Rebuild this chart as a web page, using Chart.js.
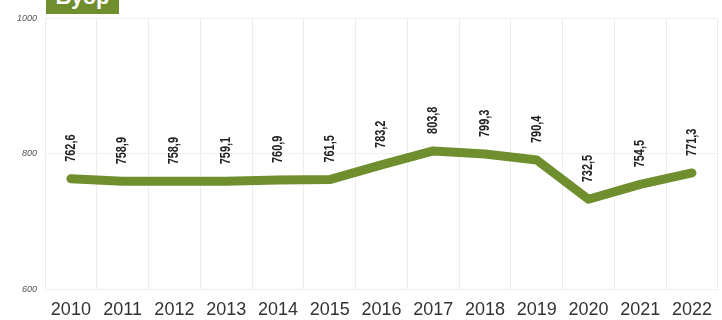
<!DOCTYPE html>
<html>
<head>
<meta charset="utf-8">
<script src="https://cdn.jsdelivr.net/npm/chart.js@4/dist/chart.umd.min.js"></script>
<style>
  html, body { margin: 0; padding: 0; background: #fff; }
  #wrap { position: relative; width: 722px; height: 320px; overflow: hidden; }
  #badge {
    position: absolute; left: 46px; top: -13px; width: 73px; height: 27px;
    background: #6f8e2e; color: #fff; font: bold 22px "Liberation Sans", Arial, sans-serif;
    line-height: 20px; text-align: center; overflow: hidden;
  }
</style>
</head>
<body>
<div id="wrap">
  <canvas id="chart" width="722" height="320"></canvas>
  <div id="badge">Буор</div>
</div>
<script>
// years and values
const years = ['2010', '2011', '2012', '2013', '2014', '2015', '2016', '2017', '2018', '2019', '2020', '2021', '2022'];
const values = [762.6, 758.9, 758.9, 759.1, 760.9, 761.5, 783.2, 803.8, 799.3, 790.4, 732.5, 754.5, 771.3];
const yTicks = [600, 800, 1000];

const green = '#6f8e2e';

// vertical value labels above each point (squeezed to look condensed)
const valueLabels = {
    id: 'valueLabels',
    afterDatasetsDraw(chart) {
        const ctx = chart.ctx;
        const meta = chart.getDatasetMeta(0);
        ctx.save();
        ctx.fillStyle = '#222';
        ctx.font = 'bold 14px "Liberation Sans", Arial, sans-serif';
        ctx.textAlign = 'left';
        ctx.textBaseline = 'middle';
        meta.data.forEach((pt, i) => {
            const txt = values[i].toFixed(1).replace('.', ',');
            ctx.save();
            ctx.translate(pt.x, pt.y - 17);
            ctx.rotate(-Math.PI / 2);
            ctx.scale(0.78, 1);
            ctx.fillText(txt, 0, 0);
            ctx.restore();
        });
        ctx.restore();
    }
};

const ctx = document.getElementById('chart').getContext('2d');
new Chart(ctx, {
    type: 'line',
    data: {
        labels: years,
        datasets: [{
            data: values,
            borderColor: green,
            borderWidth: 9,
            borderJoinStyle: 'round',
            borderCapStyle: 'round',
            pointRadius: 0,
            tension: 0,
            fill: false
        }]
    },
    options: {
        responsive: false,
        animation: false,
        layout: { padding: { top: 18, right: 0, left: 0, bottom: 0 } },
        plugins: {
            legend: { display: false },
            tooltip: { enabled: false }
        },
        scales: {
            x: {
                offset: true,
                grid: { color: '#ececec', lineWidth: 1, offset: true, drawTicks: false },
                border: { display: false },
                ticks: {
                    color: '#333',
                    font: { family: '"Liberation Sans", Arial, sans-serif', size: 18 },
                    padding: 10,
                    maxRotation: 0,
                    autoSkip: false
                },
                afterFit(scale) { scale.height = 31; }
            },
            y: {
                min: 600,
                max: 1000,
                afterBuildTicks(scale) { scale.ticks = yTicks.map(v => ({ value: v })); },
                grid: { color: '#f0f0f0', drawTicks: false },
                border: { display: false },
                ticks: {
                    color: '#555',
                    font: { family: '"Liberation Sans", Arial, sans-serif', size: 9, style: 'italic' },
                    padding: 8,
                    callback: v => String(v)
                },
                afterFit(scale) { scale.width = 45; }
            }
        }
    },
    plugins: [valueLabels]
});
</script>
</body>
</html>
